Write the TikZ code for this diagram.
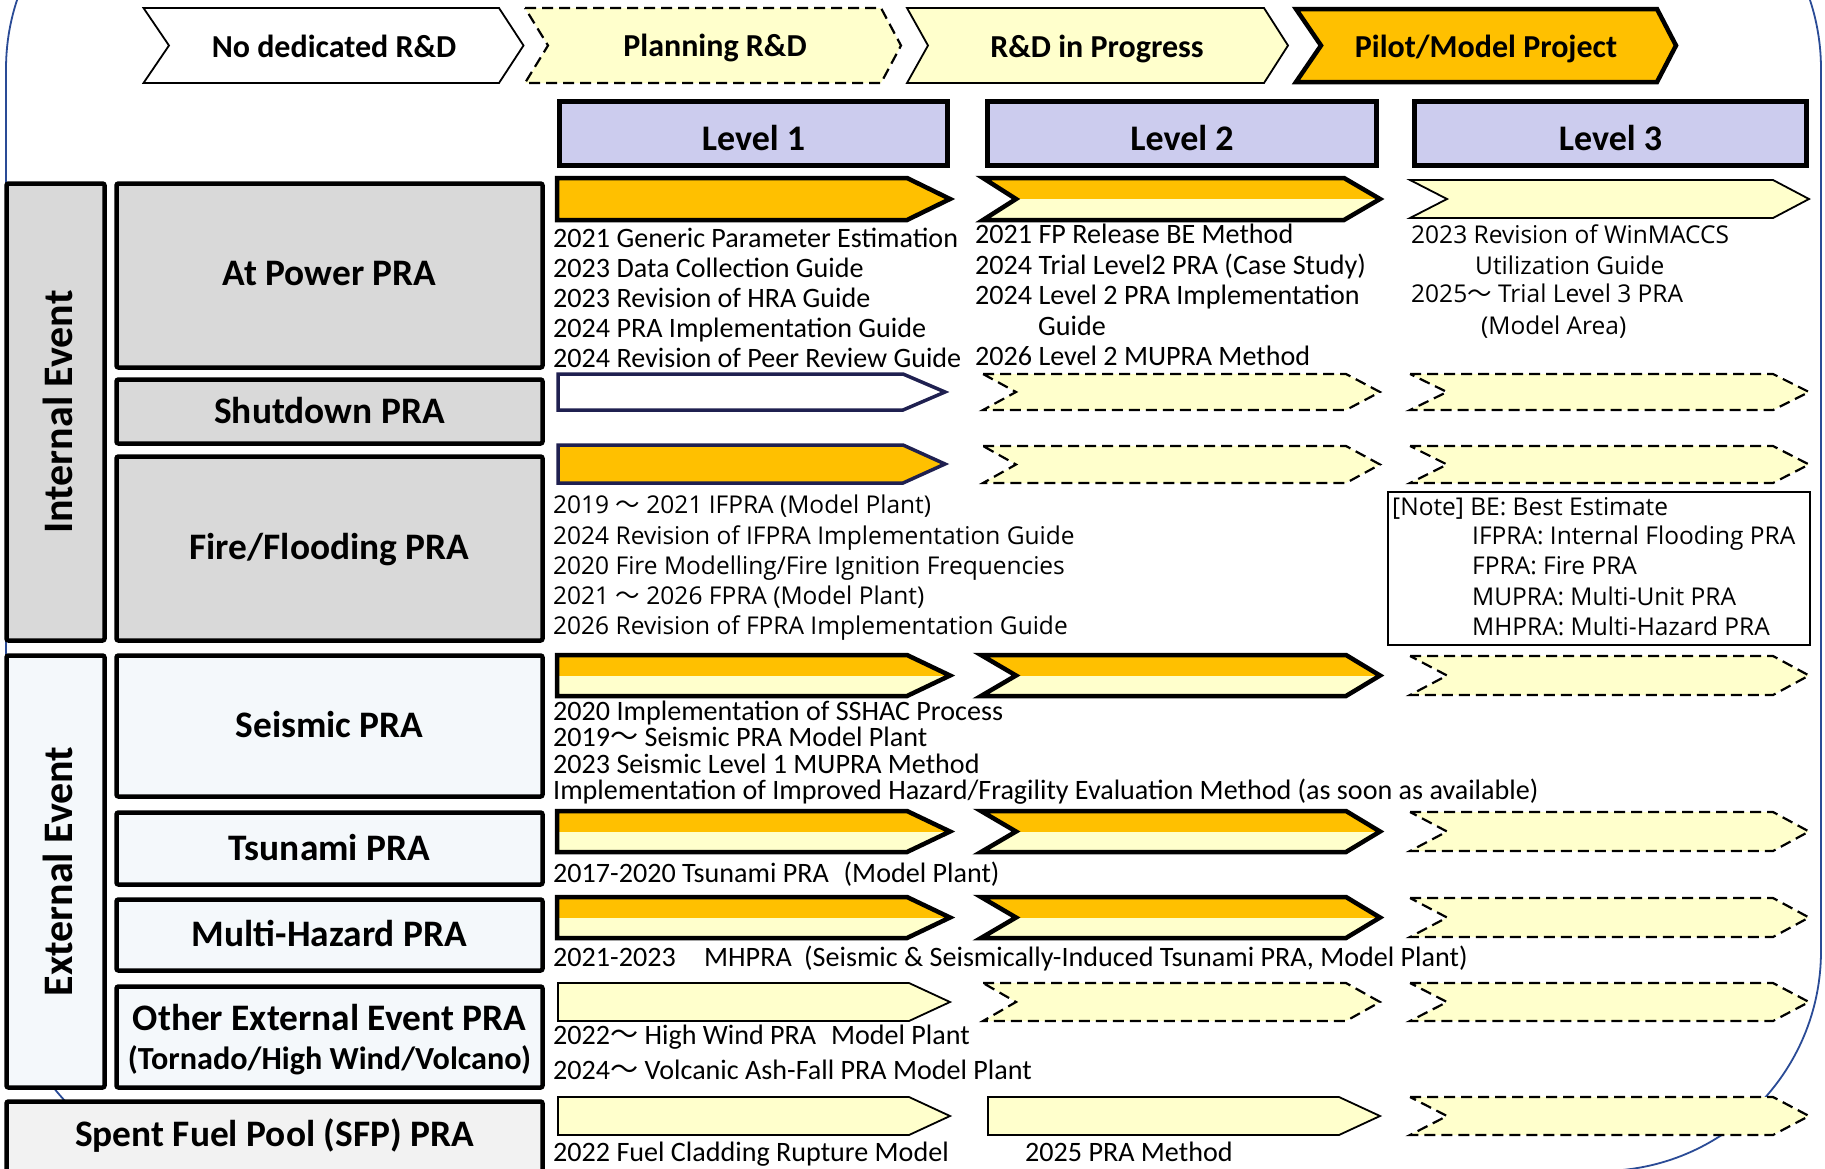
\documentclass[tikz,border=0pt]{standalone}
\usepackage{fontspec}
\setmainfont{Carlito}
\newfontfamily\meiryo{Open Sans}
\newfontfamily\jpfont{Noto Sans CJK JP}
\newcommand\wdash{\smash{\jpfont 〜}}

\definecolor{orng}{HTML}{FFC000}
\definecolor{lyel}{HTML}{FFFFCC}
\definecolor{lav}{HTML}{CCCCEE}
\definecolor{gry}{HTML}{D9D9D9}
\definecolor{extfill}{HTML}{F4F8FB}
\definecolor{sfpfill}{HTML}{F2F2F2}
\definecolor{navyline}{HTML}{1F2050}
\definecolor{framecol}{HTML}{2A4B96}

% pentagon arrow: style, x0, x1 (body end), x2 (tip), ytop, ybot
\newcommand\penta[6]{\draw[#1] (#2,#5) -- (#3,#5) -- (#4,{(#5+#6)/2}) -- (#3,#6) -- (#2,#6) -- cycle;}
% notched chevron: style, x0, notch, x1, x2, ytop, ybot
\newcommand\chev[7]{\draw[#1] (#2,#6) -- (#4,#6) -- (#5,{(#6+#7)/2}) -- (#4,#7) -- (#2,#7) -- (#3,{(#6+#7)/2}) -- cycle;}
% two-tone pentagon (orange over yellow)
\newcommand\pentaTwo[5]{%
  \begin{scope}
    \clip (#1,#4) -- (#2,#4) -- (#3,{(#4+#5)/2}) -- (#2,#5) -- (#1,#5) -- cycle;
    \fill[lyel] (#1,#4) rectangle (#3,#5);
    \fill[orng] (#1,#4) rectangle (#3,{(#4+#5)/2});
  \end{scope}
  \penta{thickarrow}{#1}{#2}{#3}{#4}{#5}}
% two-tone chevron (orange over yellow)
\newcommand\chevTwo[6]{%
  \begin{scope}
    \clip (#1,#5) -- (#3,#5) -- (#4,{(#5+#6)/2}) -- (#3,#6) -- (#1,#6) -- (#2,{(#5+#6)/2}) -- cycle;
    \fill[lyel] (#1,#5) rectangle (#4,#6);
    \fill[orng] (#1,#5) rectangle (#4,{(#5+#6)/2});
  \end{scope}
  \chev{thickarrow}{#1}{#2}{#3}{#4}{#5}{#6}}

\tikzset{
  thickarrow/.style={draw=black, line width=4.5pt, line join=miter},
  thinarrow/.style={draw=black, fill=lyel, line width=1.8pt, line join=miter},
  planarrow/.style={draw=black, fill=lyel, line width=2.2pt, dash pattern=on 11pt off 6pt},
  catbox/.style={draw=black, line width=4.5pt, rounded corners=2pt},
  levelbox/.style={draw=black, fill=lav, line width=5pt},
  body/.style={font=\fontsize{28.1}{30}\selectfont, inner sep=0pt, anchor=base west},
  mei/.style={font=\meiryo\fontsize{24.5}{28}\selectfont, inner sep=0pt, anchor=base west},
  ttl/.style={font=\bfseries\fontsize{37.4}{40}\selectfont, inner sep=0pt, anchor=base},
  hdr/.style={font=\bfseries\fontsize{32}{34}\selectfont, inner sep=0pt, anchor=base},
  vlabel/.style={font=\bfseries\fontsize{42}{46}\selectfont, inner sep=0pt, rotate=90},
}

\begin{document}
\begin{tikzpicture}[x=1pt, y=-1pt]
\useasboundingbox (0,0) rectangle (1825,1168);
\clip (0,0) rectangle (1825,1168);
\fill[white] (0,0) rectangle (1825,1168);

% outer rounded frame
\draw[framecol, line width=1.8pt, rounded corners=220pt] (6,-151) rectangle (1821,1171);

% ---------- legend chevrons ----------
\chev{draw=black, fill=white, line width=1.8pt}{143.5}{169}{499}{523.5}{8}{83}
\chev{planarrow}{525}{548}{881}{901}{8}{83}
\chev{thinarrow}{907}{928}{1264}{1288}{8}{83}
\chev{thickarrow, fill=orng}{1296}{1321}{1657}{1676}{9}{82}
\node[hdr] (lgNone) at (334,57) {No dedicated R\&D};
\node[hdr] (lgPlan) at (715,56) {Planning R\&D};
\node[hdr] (lgProg) at (1097,57) {R\&D in Progress};
\node[hdr] (lgPilot) at (1486,57) {Pilot/Model Project};

% ---------- level headers ----------
\draw[levelbox] (559.5,101.5) rectangle (947.5,165.5);
\draw[levelbox] (987.5,101.5) rectangle (1376.5,165.5);
\draw[levelbox] (1414.5,101.5) rectangle (1806.5,165.5);
\node[ttl, font=\bfseries\fontsize{36}{40}\selectfont] (lv1) at (753.5,150) {Level 1};
\node[ttl, font=\bfseries\fontsize{36}{40}\selectfont] (lv2) at (1182,150) {Level 2};
\node[ttl, font=\bfseries\fontsize{36}{40}\selectfont] (lv3) at (1610.5,150) {Level 3};

% ---------- category boxes ----------
\draw[catbox, fill=gry] (6.5,183.5) rectangle (104.5,640.5);
\draw[catbox, fill=gry] (116.5,183.5) rectangle (542.5,367.5);
\draw[catbox, fill=gry] (116.5,379.5) rectangle (542.5,443.5);
\draw[catbox, fill=gry] (116.5,456.5) rectangle (542.5,640.5);
\draw[catbox, fill=extfill] (6.5,655.5) rectangle (104.5,1087.5);
\draw[catbox, fill=extfill] (116.5,655.5) rectangle (542.5,796.5);
\draw[catbox, fill=extfill] (116.5,812.5) rectangle (542.5,884.5);
\draw[catbox, fill=extfill] (116.5,899.5) rectangle (542.5,970.5);
\draw[catbox, fill=extfill] (116.5,986.5) rectangle (542.5,1087.5);
\draw[catbox, fill=sfpfill] (6.5,1101.5) rectangle (542.5,1190);

\node[vlabel] (intEv) at (58,412) {Internal Event};
\node[vlabel] (extEv) at (58,871.5) {External Event};
\node[ttl] (catAP) at (329.5,285) {At Power PRA};
\node[ttl] (catSD) at (329.5,423) {Shutdown PRA};
\node[ttl] (catFF) at (329.5,559) {Fire/Flooding PRA};
\node[ttl] (catSe) at (329.5,737) {Seismic PRA};
\node[ttl] (catTs) at (329.5,860.5) {Tsunami PRA};
\node[ttl] (catMH) at (329.5,946) {Multi-Hazard PRA};
\node[ttl] (catOE1) at (329.5,1030.5) {Other External Event PRA};
\node[ttl, font=\bfseries\fontsize{32.2}{34}\selectfont] (catOE2) at (329.5,1069) {(Tornado/High Wind/Volcano)};
\node[ttl] (catSFP) at (274.5,1146) {Spent Fuel Pool (SFP) PRA};

% ---------- At Power row ----------
\penta{thickarrow, fill=orng}{557}{907}{950}{178}{220}
\chevTwo{983}{1016}{1344}{1380}{178}{220}
\chev{thinarrow}{1410}{1447}{1773}{1809}{180}{218}

\node[body] (ap1a) at (553,247) {2021 Generic Parameter Estimation};
\node[body] (ap1b) at (553,277) {2023 Data Collection Guide};
\node[body] (ap1c) at (553,307) {2023 Revision of HRA Guide};
\node[body] (ap1d) at (553,337) {2024 PRA Implementation Guide};
\node[body] (ap1e) at (553,367) {2024 Revision of Peer Review Guide};

\node[body] (ap2a) at (975,243) {2021 FP Release BE Method};
\node[body] (ap2b) at (975,274) {2024 Trial Level2 PRA (Case Study)};
\node[body] (ap2c) at (975,304.5) {2024 Level 2 PRA Implementation};
\node[body] (ap2d) at (1038,335) {Guide};
\node[body] (ap2e) at (975,365) {2026 Level 2 MUPRA Method};

\node[mei] (ap3a) at (1411,243) {2023 Revision of WinMACCS};
\node[mei] (ap3b) at (1475,274) {Utilization Guide};
\node[mei] (ap3c) at (1411,302) {2025\wdash\ Trial Level 3 PRA};
\node[mei] (ap3d) at (1481,334) {(Model Area)};

% ---------- Shutdown row ----------
\penta{draw=navyline, fill=white, line width=3.5pt, line join=miter}{558}{903}{945}{374}{410}
\chev{planarrow}{983}{1016}{1346}{1380}{374}{410}
\chev{planarrow}{1410}{1447}{1773}{1809}{374}{410}

% ---------- Fire/Flooding row ----------
\penta{draw=navyline, fill=orng, line width=3.5pt, line join=miter}{558}{903}{945}{445}{483}
\chev{planarrow}{983}{1016}{1346}{1380}{446}{483}
\chev{planarrow}{1410}{1447}{1773}{1809}{446}{483}

\node[mei] (ff1) at (553,513) {2019 \wdash\ 2021 IFPRA (Model Plant)};
\node[mei] (ff2) at (553,544) {2024 Revision of IFPRA Implementation Guide};
\node[mei] (ff3) at (553,574) {2020 Fire Modelling/Fire Ignition Frequencies};
\node[mei] (ff4) at (553,604) {2021 \wdash\ 2026 FPRA (Model Plant)};
\node[mei] (ff5) at (553,634) {2026 Revision of FPRA Implementation Guide};

% note box
\draw[black, line width=1.5pt] (1388,492) rectangle (1810,645);
\node[mei] (nt1) at (1392,515) {[Note] BE: Best Estimate};
\node[mei] (nt2) at (1472,544) {IFPRA: Internal Flooding PRA};
\node[mei] (nt3) at (1472,574) {FPRA: Fire PRA};
\node[mei] (nt4) at (1472,605) {MUPRA: Multi-Unit PRA};
\node[mei] (nt5) at (1472,635) {MHPRA: Multi-Hazard PRA};

% ---------- Seismic row ----------
\pentaTwo{557}{907}{950}{655}{696}
\chevTwo{981}{1016}{1346}{1380}{655}{696}
\chev{planarrow}{1410}{1447}{1773}{1809}{656}{695}

\node[body] (se1) at (553,720) {2020 Implementation of SSHAC Process};
\node[body] (se2) at (553,746) {2019\wdash\ Seismic PRA Model Plant};
\node[body] (se3) at (553,773) {2023 Seismic Level 1 MUPRA Method};
\node[body] (se4) at (553,799.5) {Implementation of Improved Hazard/Fragility Evaluation Method (as soon as available)};

% ---------- Tsunami row ----------
\pentaTwo{557}{907}{950}{811}{852}
\chevTwo{981}{1016}{1346}{1380}{811}{852}
\chev{planarrow}{1410}{1447}{1773}{1809}{812}{851}
\node[body] (ts1) at (553,882) {2017-2020 Tsunami PRA\hspace{0.3em} (Model Plant)};

% ---------- Multi-Hazard row ----------
\pentaTwo{557}{907}{950}{897}{938}
\chevTwo{981}{1016}{1346}{1380}{897}{938}
\chev{planarrow}{1410}{1447}{1773}{1809}{898}{937}
\node[body] (mh1) at (553,966) {2021-2023};
\node[body] (mh2) at (704,966) {MHPRA};
\node[body] (mh3) at (804,966) {(Seismic \& Seismically-Induced Tsunami PRA, Model Plant)};

% ---------- Other external event row ----------
\penta{thinarrow}{558}{909}{950}{983}{1021}
\chev{planarrow}{983}{1016}{1346}{1380}{983}{1021}
\chev{planarrow}{1410}{1447}{1773}{1809}{983}{1021}
\node[body] (oe1) at (553,1044) {2022\wdash\ High Wind PRA\hspace{0.3em} Model Plant};
\node[body] (oe2) at (553,1079) {2024\wdash\ Volcanic Ash-Fall PRA Model Plant};

% ---------- SFP row ----------
\penta{thinarrow}{558}{909}{950}{1097}{1135}
\penta{thinarrow}{988}{1339}{1380}{1097}{1135}
\chev{planarrow}{1410}{1447}{1773}{1809}{1097}{1135}
\node[body] (sf1) at (553,1161) {2022 Fuel Cladding Rupture Model};
\node[body] (sf2) at (1025,1161) {2025 PRA Method};

\end{tikzpicture}
\end{document}
